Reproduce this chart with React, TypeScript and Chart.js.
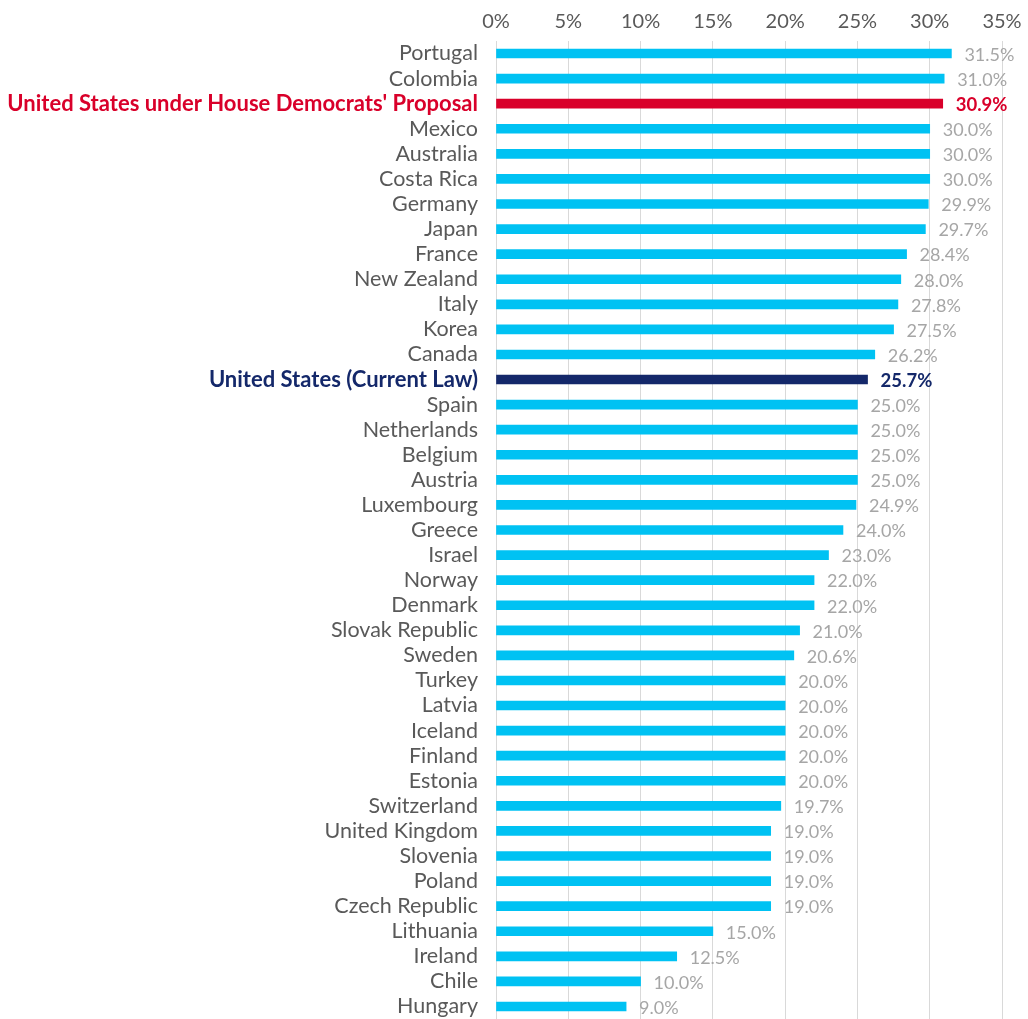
import React, { useEffect, useRef } from "react";
import { Chart, registerables } from "chart.js";

Chart.register(...registerables);

const categories: string[] = [
  "Portugal", "Colombia", "United States under House Democrats' Proposal", "Mexico", "Australia",
  "Costa Rica", "Germany", "Japan", "France", "New Zealand", "Italy", "Korea", "Canada",
  "United States (Current Law)", "Spain", "Netherlands", "Belgium", "Austria", "Luxembourg",
  "Greece", "Israel", "Norway", "Denmark", "Slovak Republic", "Sweden", "Turkey", "Latvia",
  "Iceland", "Finland", "Estonia", "Switzerland", "United Kingdom", "Slovenia", "Poland",
  "Czech Republic", "Lithuania", "Ireland", "Chile", "Hungary",
];

const rates: number[] = [
  31.5, 31.0, 30.9, 30.0, 30.0, 30.0, 29.9, 29.7, 28.4, 28.0, 27.8, 27.5, 26.2, 25.7, 25.0,
  25.0, 25.0, 25.0, 24.9, 24.0, 23.0, 22.0, 22.0, 21.0, 20.6, 20.0, 20.0, 20.0, 20.0, 20.0,
  19.7, 19.0, 19.0, 19.0, 19.0, 15.0, 12.5, 10.0, 9.0,
];

const xTicks: number[] = [0, 5, 10, 15, 20, 25, 30, 35];

const PROPOSAL = "United States under House Democrats' Proposal";
const CURRENT = "United States (Current Law)";

const CYAN = "#00C2F3";
const RED = "#D9002A";
const NAVY = "#14286A";
const LABEL = "#595959";
const VALUE = "#A6A6A6";
const FONT = "Lato, 'Open Sans', sans-serif";

function barColor(name: string): string {
  if (name === PROPOSAL) return RED;
  if (name === CURRENT) return NAVY;
  return CYAN;
}

function isSpecial(name: string): boolean {
  return name === PROPOSAL || name === CURRENT;
}

const valueLabels = {
  id: "valueLabels",
  afterDatasetsDraw(chart: any) {
    const ctx = chart.ctx;
    const meta = chart.getDatasetMeta(0);
    ctx.save();
    ctx.textAlign = "left";
    ctx.textBaseline = "middle";
    meta.data.forEach((bar: any, i: number) => {
      const name = categories[i];
      const special = isSpecial(name);
      ctx.font = `${special ? "bold 18.5px" : "18px"} ${FONT}`;
      ctx.fillStyle = special ? barColor(name) : VALUE;
      ctx.fillText(rates[i].toFixed(1) + "%", bar.x + 13, bar.y + 1.5);
    });
    ctx.restore();
  },
};

export default function App() {
  const canvasRef = useRef<HTMLCanvasElement | null>(null);

  useEffect(() => {
    if (!canvasRef.current) return;
    const chart = new Chart(canvasRef.current, {
      type: "bar",
      data: {
        labels: categories,
        datasets: [
          {
            data: rates,
            backgroundColor: categories.map(barColor),
            barThickness: 9,
            borderWidth: 0,
          },
        ],
      },
      options: {
        indexAxis: "y",
        responsive: false,
        animation: false,
        layout: { padding: { left: 0, right: 26, top: 0, bottom: 0 } },
        plugins: {
          legend: { display: false },
          tooltip: { enabled: false },
        },
        scales: {
          x: {
            position: "top",
            min: 0,
            max: 35,
            afterBuildTicks: (axis: any) => {
              axis.ticks = xTicks.map((v) => ({ value: v }));
            },
            afterFit: (axis: any) => {
              axis.height = 41;
              axis.paddingLeft = 0;
              axis.paddingRight = 0;
            },
            ticks: {
              callback: (v: any) => v + "%",
              color: LABEL,
              font: { family: FONT, size: 20 },
              padding: 7,
              maxRotation: 0,
            },
            grid: { color: "#D9D9D9", lineWidth: 1, drawTicks: false },
            border: { display: false },
          },
          y: {
            afterFit: (axis: any) => {
              axis.width = 496;
              axis.paddingTop = 0;
              axis.paddingBottom = 0;
            },
            ticks: {
              color: (c: any) => {
                const name = categories[c.index];
                return isSpecial(name) ? barColor(name) : LABEL;
              },
              font: (c: any) => {
                const name = categories[c.index];
                const special = isSpecial(name);
                return { family: FONT, size: special ? 22 : 21.5, weight: special ? "bold" : "normal" };
              },
              padding: 18,
              autoSkip: false,
            },
            grid: { display: false, drawTicks: false },
            border: { display: false },
          },
        },
      },
      plugins: [valueLabels],
    } as any);
    return () => chart.destroy();
  }, []);

  return (
    <div style={{ position: "fixed", left: 0, top: 0, width: 1028, height: 1019, background: "#fff" }}>
      <canvas ref={canvasRef} width={1028} height={1019} />
    </div>
  );
}
